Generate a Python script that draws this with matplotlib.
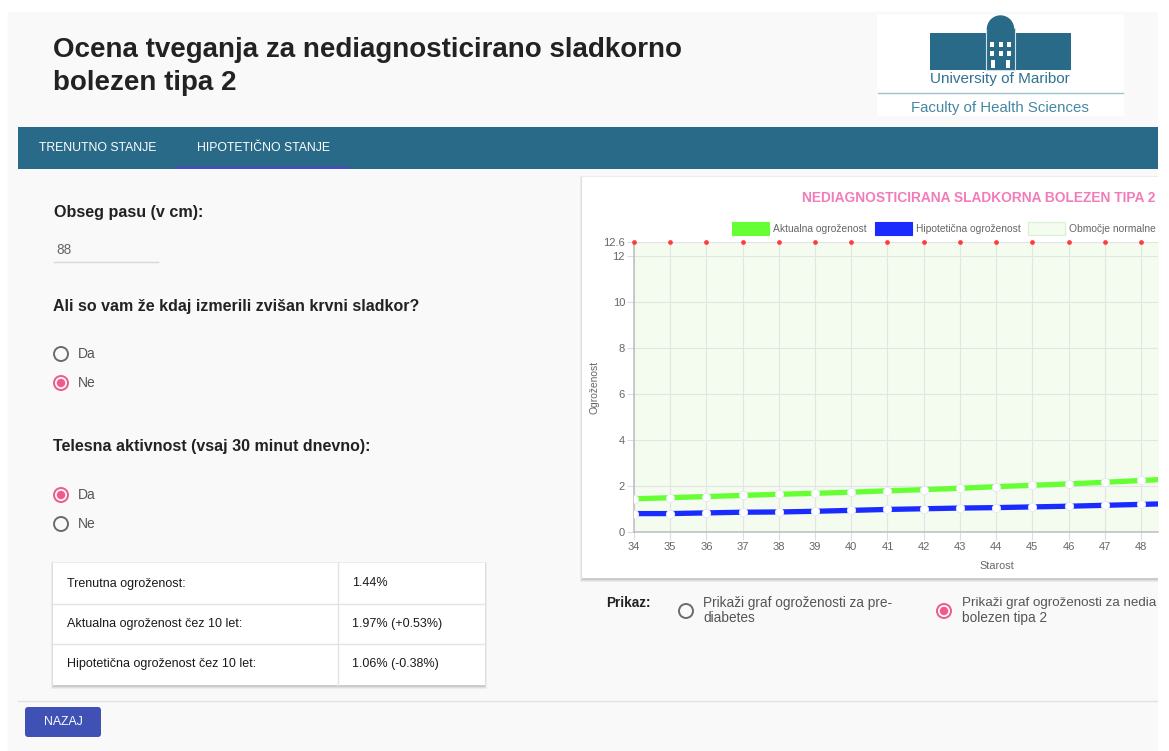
import matplotlib
matplotlib.use('Agg')
import matplotlib.pyplot as plt
from matplotlib.patches import Rectangle, Circle, FancyBboxPatch, Wedge

plt.rcParams['font.family'] = ['Liberation Sans', 'DejaVu Sans']

# ------------------------
# data
# ------------------------
ages = [34, 35, 36, 37, 38, 39, 40, 41, 42, 43, 44, 45, 46, 47, 48, 49]
aktualna = [1.44, 1.49, 1.54, 1.59, 1.64, 1.68, 1.73, 1.79, 1.84, 1.90, 1.97, 2.03, 2.09, 2.16, 2.24, 2.31]
hipoteticna = [0.80, 0.80, 0.83, 0.86, 0.87, 0.90, 0.94, 0.98, 1.01, 1.04, 1.06, 1.09, 1.12, 1.16, 1.20, 1.24]
normalno = [12.6, 12.6, 12.6, 12.6, 12.6, 12.6, 12.6, 12.6, 12.6, 12.6, 12.6, 12.6, 12.6, 12.6, 12.6, 12.6]
y_ticks = [0, 2, 4, 6, 8, 10, 12, 12.6]
series_labels = ['Aktualna ogroženost', 'Hipotetična ogroženost', 'Območje normalne']
series_colors = ['#66ff33', '#1a2bff', '#f3fcef']

tabs = ['TRENUTNO STANJE', 'HIPOTETIČNO STANJE']
table_rows = ['Trenutna ogroženost:', 'Aktualna ogroženost čez 10 let:', 'Hipotetična ogroženost čez 10 let:']
table_vals = ['1.44%', '1.97% (+0.53%)', '1.06% (-0.38%)']

TEAL = '#296a89'
PINK = '#ef5a8e'
GREY = '#555555'

fig = plt.figure(figsize=(11.69, 7.51), dpi=100)
fig.patch.set_facecolor('white')

# full-page axes in pixel coordinates, clipped at the right edge like the screenshot
ui = fig.add_axes([0, 0, 1158 / 1169, 1])
ui.set_xlim(0, 1158)
ui.set_ylim(751, 0)
ui.axis('off')

ui.add_patch(Rectangle((8, 12), 1150, 739, color='#f9f9f9', zorder=0))


def card(x, y, w, h):
    for i, a in enumerate([0.05, 0.06, 0.08]):
        d = 3 - i
        ui.add_patch(Rectangle((x - d + 1, y - d + 2), w + 2 * d - 2, h + 2 * d - 1,
                               color='black', alpha=a, lw=0, zorder=1))
    ui.add_patch(Rectangle((x, y), w, h, color='white', lw=0, zorder=1.5))


def radio(x, y, selected):
    col = PINK if selected else '#6b6b6b'
    ui.add_patch(Circle((x, y), 7, fill=False, ec=col, lw=1.4, zorder=3))
    if selected:
        ui.add_patch(Circle((x, y), 4.2, color=col, lw=0, zorder=3))


# header
ui.text(53, 57, 'Ocena tveganja za nediagnosticirano sladkorno', fontsize=20,
        fontweight='bold', color='#222222', va='baseline')
ui.text(53, 90, 'bolezen tipa 2', fontsize=20, fontweight='bold', color='#222222', va='baseline')

# logo
ui.add_patch(Rectangle((877, 15), 247, 101, color='white', lw=0, zorder=1))
ui.add_patch(Rectangle((930, 33), 141, 37, color=TEAL, lw=0, zorder=2))
ui.add_patch(Rectangle((986, 28), 29, 42, color=TEAL, ec='#cfe0e8', lw=0.8, zorder=3))
ui.add_patch(Wedge((1000.5, 29), 13, 180, 360, color=TEAL, zorder=3))
for wy in [42, 51]:
    for wx in [990, 998.5, 1007]:
        ui.add_patch(Rectangle((wx, wy), 4, 5, color='white', lw=0, zorder=4))
for wx in [991, 1006]:
    ui.add_patch(Rectangle((wx, 60), 3.5, 8, color='white', lw=0, zorder=4))
ui.text(1000, 79, 'University of Maribor', fontsize=11, color='#2f7391', ha='center', va='center', zorder=4)
ui.plot([878, 1123], [93, 93], color='#9dc3d1', lw=1, zorder=4)
ui.text(1000, 108, 'Faculty of Health Sciences', fontsize=10.8, color='#4587a3', ha='center', va='center', zorder=4)

# navigation bar
ui.add_patch(Rectangle((18, 127), 1140, 42, color=TEAL, lw=0, zorder=1))
ui.text(39, 148, tabs[0], fontsize=8.8, color='white', va='center', zorder=2)
ui.text(197, 148, tabs[1], fontsize=8.8, color='white', va='center', zorder=2)
ui.add_patch(Rectangle((175, 166), 175, 3, color='#3f51b5', lw=0, zorder=2))

# form on the left
ui.text(54, 212, 'Obseg pasu (v cm):', fontsize=11.6, fontweight='bold', color='#222222', va='center')
ui.text(56, 250, '88', fontsize=9.8, color='#666666', va='center')
ui.plot([54, 158], [262, 262], color='#d6d6d6', lw=1)
ui.text(53, 306, 'Ali so vam že kdaj izmerili zvišan krvni sladkor?', fontsize=11.5,
        fontweight='bold', color='#222222', va='center')
radio(61, 354, False)
ui.text(78, 354, 'Da', fontsize=10, color=GREY, va='center')
radio(61, 383, True)
ui.text(78, 383, 'Ne', fontsize=10, color=GREY, va='center')
ui.text(53, 447, 'Telesna aktivnost (vsaj 30 minut dnevno):', fontsize=11.5,
        fontweight='bold', color='#222222', va='center')
radio(61, 495, True)
ui.text(78, 495, 'Da', fontsize=10, color=GREY, va='center')
radio(61, 524, False)
ui.text(78, 524, 'Ne', fontsize=10, color=GREY, va='center')

# result table
card(53, 563, 432, 122)
for yy in [604, 644]:
    ui.plot([53, 485], [yy, yy], color='#e3e3e3', lw=1, zorder=2)
ui.plot([338, 338], [563, 685], color='#e3e3e3', lw=1, zorder=2)
for i, (lab, val) in enumerate(zip(table_rows, table_vals)):
    yc = 583.5 + i * 40.5
    ui.text(67, yc, lab, fontsize=9, color='#1a1a1a', va='center', zorder=3)
    ui.text(352, yc, val, fontsize=9, color='#1a1a1a', va='center', zorder=3)

ui.plot([18, 1158], [701, 701], color='#e2e2e2', lw=1)
ui.add_patch(FancyBboxPatch((25, 707), 76, 30, boxstyle='round,pad=0,rounding_size=3',
                            color='#3f51b5', lw=0, zorder=2))
ui.text(63, 722, 'NAZAJ', fontsize=8.8, color='white', ha='center', va='center', zorder=3)

# chart card
card(582, 177, 590, 401)
ui.text(978.5, 198, 'NEDIAGNOSTICIRANA SLADKORNA BOLEZEN TIPA 2', fontsize=9.9, fontweight='bold',
        color='#f27cb9', ha='center', va='center', zorder=3, clip_on=True)
leg_x = [732, 875, 1028]
for lx, lab, col in zip(leg_x, series_labels, series_colors):
    ec = '#d8efd0' if lab == series_labels[2] else col
    ui.add_patch(Rectangle((lx, 222), 37, 13, color=col, ec=ec, lw=0.8, zorder=3))
    ui.text(lx + 41, 229, lab, fontsize=7.4, color='#666666', va='center', zorder=3, clip_on=True)
ui.text(997, 566, 'Starost', fontsize=7.8, color='#666666', ha='center', va='center', zorder=3)
ui.text(595, 387, 'Ogroženost', fontsize=7.4, color='#666666', rotation=90,
        ha='center', va='center', zorder=3)

# Prikaz radios
ui.text(606, 603, 'Prikaz:', fontsize=9.8, fontweight='bold', color='#222222', va='center')
radio(686, 611, False)
ui.text(703, 603, 'Prikaži graf ogroženosti za pre-', fontsize=9.8, color=GREY, va='center')
ui.text(703, 618, 'diabetes', fontsize=9.8, color=GREY, va='center')
radio(944, 611, True)
ui.text(962, 603, 'Prikaži graf ogroženosti za nedia', fontsize=9.6,
        color=GREY, va='center')
ui.text(962, 618, 'bolezen tipa 2', fontsize=9.8, color=GREY, va='center')

# the chart itself
ax = fig.add_axes([634 / 1169, 1 - 532 / 751, 524 / 1169, 290 / 751])
ax.set_zorder(5)
ax.set_facecolor('none')
ax.fill_between(ages, 0, normalno, color=series_colors[2], lw=0, zorder=0)
ax.plot(ages, hipoteticna, color=series_colors[1], lw=3.8, solid_capstyle='butt',
        marker='o', ms=6, mfc='white', mec='#e3e8f2', mew=0.6, zorder=3)
ax.plot(ages, aktualna, color=series_colors[0], lw=3.8, solid_capstyle='butt',
        marker='o', ms=6, mfc='white', mec='#e3e8f2', mew=0.6, zorder=3)
ax.plot(ages, normalno, 'o', color='#ff3b3b', ms=2.4, lw=0, clip_on=False, zorder=4)

ax.set_xticks(ages)
ax.set_yticks(y_ticks)
ax.set_yticklabels(['%g' % t for t in y_ticks])
ax.set_xlim(34, 34 + 524 / 36.214)
ax.set_ylim(0, 12.6)
ax.grid(True, color='#e4e4e4', lw=0.8)
ax.set_axisbelow(True)
for s in ['top', 'right']:
    ax.spines[s].set_visible(False)
for s in ['left', 'bottom']:
    ax.spines[s].set_color('#bdbdbd')
    ax.spines[s].set_linewidth(1.1)
ax.tick_params(axis='y', length=5, pad=1.5, color='#dedede', labelcolor='#666666', labelsize=8)
ax.tick_params(axis='x', length=6, pad=1, color='#dedede', labelcolor='#666666', labelsize=8)

fig.savefig('out.png', dpi=100, facecolor=fig.get_facecolor())
